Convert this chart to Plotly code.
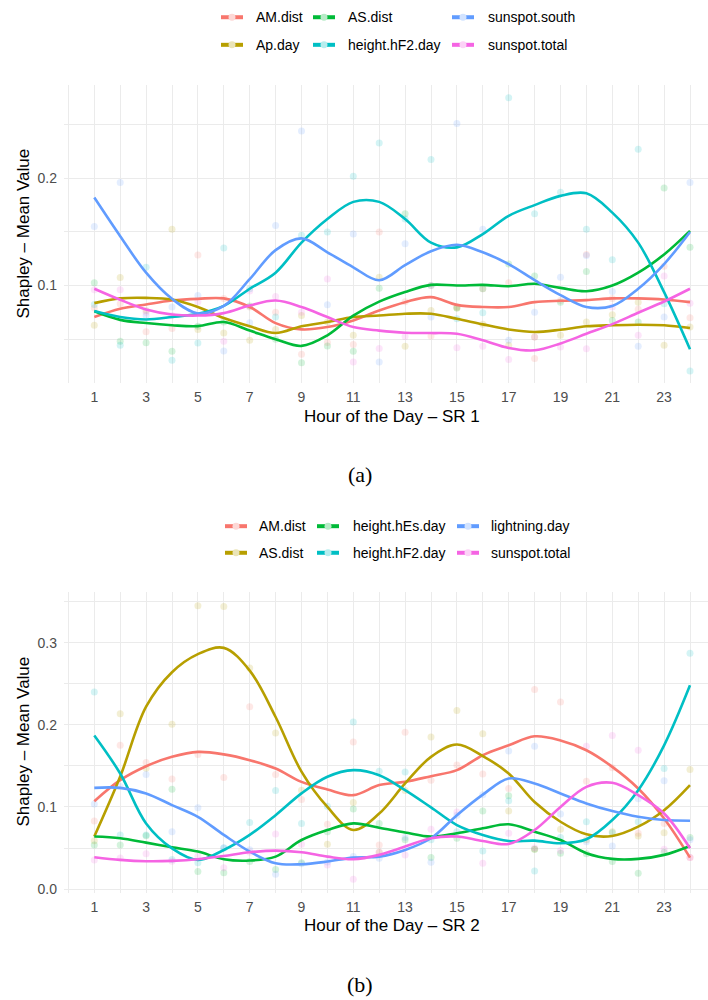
import plotly.graph_objects as go

hours = list(range(1, 25))

# ---------------- Panel (a) : SR 1 ----------------
a_names = ["AM.dist", "Ap.day", "AS.dist", "height.hF2.day", "sunspot.south", "sunspot.total"]
a_colors = ["#F8766D", "#B79F00", "#00BA38", "#00BFC4", "#619CFF", "#F564E3"]

# smoothed curves (read at each hour)
a_AM_smooth = [0.0706, 0.0783, 0.0824, 0.0860, 0.0876, 0.0880, 0.0800, 0.0650, 0.0591, 0.0613, 0.0675, 0.0768,
               0.0845, 0.0892, 0.0820, 0.0800, 0.0800, 0.0845, 0.0858, 0.0864, 0.0880, 0.0880, 0.0870, 0.0845]
a_Ap_smooth = [0.0836, 0.0880, 0.0885, 0.0870, 0.0800, 0.0697, 0.0620, 0.0557, 0.0620, 0.0660, 0.0706, 0.0720,
               0.0737, 0.0737, 0.0690, 0.0638, 0.0590, 0.0567, 0.0588, 0.0620, 0.0630, 0.0635, 0.0630, 0.0604]
a_AS_smooth = [0.0760, 0.0680, 0.0650, 0.0630, 0.0622, 0.0660, 0.0580, 0.0500, 0.0437, 0.0536, 0.0720, 0.0850,
               0.0940, 0.1006, 0.1000, 0.1006, 0.0994, 0.1016, 0.0978, 0.0947, 0.1000, 0.1120, 0.1290, 0.1510]
a_hF2_smooth = [0.0762, 0.0706, 0.0684, 0.0706, 0.0737, 0.0810, 0.0970, 0.1120, 0.1400, 0.1620, 0.1780, 0.1780,
                0.1620, 0.1400, 0.1356, 0.1480, 0.1650, 0.1750, 0.1836, 0.1860, 0.1680, 0.1400, 0.0938, 0.0406]
a_south_smooth = [0.1820, 0.1460, 0.1120, 0.0876, 0.0740, 0.0810, 0.1060, 0.1330, 0.1440, 0.1310, 0.1170, 0.1050,
                  0.1190, 0.1320, 0.1380, 0.1310, 0.1200, 0.1050, 0.0910, 0.0800, 0.0810, 0.0970, 0.1200, 0.1500]
a_total_smooth = [0.0970, 0.0867, 0.0777, 0.0730, 0.0720, 0.0743, 0.0814, 0.0860, 0.0800, 0.0706, 0.0613, 0.0580,
                  0.0560, 0.0557, 0.0550, 0.0490, 0.0418, 0.0396, 0.0460, 0.0550, 0.0640, 0.0746, 0.0851, 0.0970]

# hourly mean points
a_AM_pts = [0.079, 0.083, 0.057, 0.060, 0.1285, 0.088, 0.080, 0.075, 0.036, 0.047, 0.045, 0.150,
            0.085, 0.053, 0.080, 0.097, 0.1025, 0.032, 0.086, 0.129, 0.088, 0.078, 0.118, 0.070]
a_Ap_pts = [0.063, 0.1074, 0.0768, 0.1526, 0.059, 0.0557, 0.049, 0.059, 0.072, 0.066, 0.0536, 0.1077,
            0.0433, 0.0768, 0.079, 0.064, 0.0443, 0.052, 0.0536, 0.066, 0.0728, 0.0845, 0.0443, 0.0613]
a_AS_pts = [0.1025, 0.048, 0.0467, 0.0387, 0.062, 0.066, 0.081, 0.050, 0.028, 0.0437, 0.0387, 0.0975,
            0.167, 0.100, 0.079, 0.097, 0.120, 0.109, 0.0845, 0.113, 0.0675, 0.066, 0.191, 0.1356]
a_hF2_pts = [0.0824, 0.0443, 0.117, 0.0303, 0.0464, 0.135, 0.097, 0.0706, 0.147, 0.150, 0.202, 0.233,
             0.162, 0.2176, 0.069, 0.0746, 0.275, 0.167, 0.187, 0.1526, 0.124, 0.227, 0.083, 0.0204]
a_south_pts = [0.155, 0.196, 0.072, 0.080, 0.0907, 0.039, 0.0653, 0.156, 0.244, 0.082, 0.148, 0.0288,
               0.139, 0.0706, 0.251, 0.1526, 0.049, 0.0752, 0.1077, 0.128, 0.0944, 0.0433, 0.0706, 0.196]
a_total_pts = [0.096, 0.096, 0.075, 0.072, 0.085, 0.048, 0.095, 0.0898, 0.075, 0.106, 0.0288, 0.0412,
               0.0526, 0.100, 0.042, 0.0433, 0.031, 0.052, 0.0427, 0.041, 0.080, 0.0536, 0.109, 0.0836]

a_smooth = [a_AM_smooth, a_Ap_smooth, a_AS_smooth, a_hF2_smooth, a_south_smooth, a_total_smooth]
a_pts = [a_AM_pts, a_Ap_pts, a_AS_pts, a_hF2_pts, a_south_pts, a_total_pts]

# ---------------- Panel (b) : SR 2 ----------------
b_names = ["AM.dist", "AS.dist", "height.hEs.day", "height.hF2.day", "lightning.day", "sunspot.total"]
b_colors = ["#F8766D", "#B79F00", "#00BA38", "#00BFC4", "#619CFF", "#F564E3"]

b_AM_smooth = [0.107, 0.1326, 0.1496, 0.161, 0.167, 0.164, 0.157, 0.1468, 0.1306, 0.1213, 0.1144, 0.1266,
               0.1306, 0.1375, 0.1448, 0.163, 0.175, 0.186, 0.181, 0.169, 0.1488, 0.1225, 0.086, 0.0384]
b_AS_smooth = [0.064, 0.137, 0.222, 0.264, 0.286, 0.2936, 0.266, 0.2095, 0.143, 0.100, 0.072, 0.092,
               0.1286, 0.161, 0.176, 0.162, 0.1407, 0.106, 0.082, 0.0667, 0.0647, 0.076, 0.096, 0.1266]
b_hEs_smooth = [0.064, 0.0619, 0.0566, 0.051, 0.0457, 0.0364, 0.0348, 0.0396, 0.0598, 0.072, 0.080, 0.0748,
                0.069, 0.064, 0.068, 0.074, 0.0789, 0.070, 0.0598, 0.0437, 0.0368, 0.0368, 0.0417, 0.0526]
b_hF2_smooth = [0.187, 0.1407, 0.080, 0.0497, 0.0356, 0.0477, 0.066, 0.090, 0.1165, 0.1367, 0.1448, 0.1387,
                0.1205, 0.0995, 0.078, 0.066, 0.0586, 0.059, 0.0558, 0.0607, 0.0841, 0.1205, 0.175, 0.248]
b_light_smooth = [0.1233, 0.1233, 0.1165, 0.1023, 0.088, 0.066, 0.0457, 0.0315, 0.0303, 0.0336, 0.0384, 0.0396,
                  0.0477, 0.0619, 0.090, 0.115, 0.1347, 0.1286, 0.1165, 0.1043, 0.095, 0.088, 0.0841, 0.0833]
b_total_smooth = [0.0388, 0.0356, 0.034, 0.0344, 0.0364, 0.0404, 0.0449, 0.0469, 0.0449, 0.0396, 0.0364, 0.0417,
                  0.0518, 0.0619, 0.064, 0.0586, 0.055, 0.072, 0.100, 0.1245, 0.1294, 0.1144, 0.092, 0.0497]

b_AM_pts = [0.083, 0.175, 0.154, 0.134, 0.1638, 0.136, 0.222, 0.1395, 0.109, 0.079, 0.179, 0.0538,
            0.191, 0.1326, 0.151, 0.140, 0.1225, 0.243, 0.2277, 0.1314, 0.1476, 0.068, 0.080, 0.0384]
b_AS_pts = [0.059, 0.2135, 0.147, 0.2006, 0.345, 0.344, 0.269, 0.190, 0.1205, 0.0546, 0.1055, 0.045,
            0.120, 0.185, 0.2175, 0.189, 0.095, 0.0485, 0.073, 0.060, 0.070, 0.0647, 0.0687, 0.1456]
b_hEs_pts = [0.0538, 0.0538, 0.065, 0.1217, 0.0214, 0.020, 0.0336, 0.024, 0.032, 0.070, 0.0975, 0.080,
             0.060, 0.0384, 0.0619, 0.095, 0.1136, 0.0485, 0.0437, 0.043, 0.0336, 0.0194, 0.045, 0.0627]
b_hF2_pts = [0.240, 0.066, 0.066, 0.036, 0.032, 0.050, 0.081, 0.120, 0.080, 0.101, 0.2034, 0.1436,
             0.1427, 0.060, 0.070, 0.0465, 0.1076, 0.022, 0.063, 0.082, 0.0687, 0.082, 0.1468, 0.287]
b_light_pts = [0.1035, 0.125, 0.1395, 0.070, 0.099, 0.0505, 0.048, 0.018, 0.031, 0.033, 0.0396, 0.0376,
               0.063, 0.0328, 0.090, 0.115, 0.168, 0.174, 0.0914, 0.0578, 0.0526, 0.110, 0.132, 0.060]
b_total_pts = [0.0356, 0.038, 0.043, 0.034, 0.040, 0.026, 0.045, 0.067, 0.0546, 0.0295, 0.012, 0.045,
               0.0417, 0.0728, 0.094, 0.0315, 0.068, 0.050, 0.0469, 0.174, 0.187, 0.169, 0.0485, 0.0384]

b_smooth = [b_AM_smooth, b_AS_smooth, b_hEs_smooth, b_hF2_smooth, b_light_smooth, b_total_smooth]
b_pts = [b_AM_pts, b_AS_pts, b_hEs_pts, b_hF2_pts, b_light_pts, b_total_pts]

x_tick_vals = list(range(1, 25, 2))
x_minor_vals = list(range(0, 25, 2))

# ---------------- layout geometry (pixels) ----------------
W, H = 708, 1000
PX_H1, PX_H24 = 94.3, 690.0
PX_LEFT, PX_RIGHT = 64.0, 708.0
per_h = (PX_H24 - PX_H1) / 23.0
x_range = [1 - (PX_H1 - PX_LEFT) / per_h, 24 + (PX_RIGHT - PX_H24) / per_h]
x_domain = [PX_LEFT / W, PX_RIGHT / W]


def ydom(top, bot):
    return [1 - bot / H, 1 - top / H]


fig = go.Figure()

panels = [
    dict(names=a_names, colors=a_colors, smooth=a_smooth, pts=a_pts, xa="x", ya="y"),
    dict(names=b_names, colors=b_colors, smooth=b_smooth, pts=b_pts, xa="x2", ya="y2"),
]

for p in panels:
    for name, col, pts in zip(p["names"], p["colors"], p["pts"]):
        fig.add_trace(go.Scatter(x=hours, y=pts, mode="markers", name=name, showlegend=False,
                                 marker=dict(color=col, size=7, opacity=0.17, line=dict(width=0)),
                                 xaxis=p["xa"], yaxis=p["ya"], hoverinfo="skip"))
    for name, col, sm in zip(p["names"], p["colors"], p["smooth"]):
        fig.add_trace(go.Scatter(x=hours, y=sm, mode="lines", name=name, showlegend=False,
                                 line=dict(color=col, width=2.6, shape="spline", smoothing=1.0),
                                 xaxis=p["xa"], yaxis=p["ya"]))

GRID = "#EBEBEB"
tickfont = dict(family="Liberation Sans, Arial, sans-serif", size=14, color="#4D4D4D")

xcommon = dict(range=x_range, domain=x_domain, tickvals=x_tick_vals, ticktext=[str(v) for v in x_tick_vals],
               showgrid=True, gridcolor=GRID, gridwidth=1.2, zeroline=False, showline=False,
               ticks="", tickfont=tickfont, ticklabelstandoff=4,
               minor=dict(tickvals=x_minor_vals, showgrid=True, gridcolor=GRID, gridwidth=0.7))

fig.update_layout(
    width=W, height=H, margin=dict(l=0, r=0, t=0, b=0),
    paper_bgcolor="white", plot_bgcolor="white", showlegend=False,
    xaxis=dict(**xcommon, anchor="y"),
    yaxis=dict(domain=ydom(85, 385), range=[0.0087, 0.2873], tickvals=[0.1, 0.2], ticktext=["0.1", "0.2"],
               showgrid=True, gridcolor=GRID, gridwidth=1.2, zeroline=False, showline=False, ticks="",
               tickfont=tickfont, ticklabelstandoff=6, anchor="x",
               minor=dict(tickvals=[0.05, 0.15, 0.25], showgrid=True, gridcolor=GRID, gridwidth=0.7)),
    xaxis2=dict(**xcommon, anchor="y2"),
    yaxis2=dict(domain=ydom(594.3, 896.6), range=[-0.0047, 0.3617], tickvals=[0.0, 0.1, 0.2, 0.3],
                ticktext=["0.0", "0.1", "0.2", "0.3"],
                showgrid=True, gridcolor=GRID, gridwidth=1.2, zeroline=False, showline=False, ticks="",
                tickfont=tickfont, ticklabelstandoff=6, anchor="x2",
                minor=dict(tickvals=[0.05, 0.15, 0.25, 0.35], showgrid=True, gridcolor=GRID, gridwidth=0.7)),
)

annotations = []
shapes = []
sans = "Liberation Sans, Arial, sans-serif"


def px_note(x, y, text, size, family=sans, color="black", xanchor="center", angle=0):
    annotations.append(dict(x=x / W, y=1 - y / H, xref="paper", yref="paper", text=text, showarrow=False,
                            xanchor=xanchor, yanchor="middle", textangle=angle,
                            font=dict(family=family, size=size, color=color)))


# axis titles
px_note(392, 418, "Hour of the Day – SR 1", 17)
px_note(23.5, 235, "Shapley – Mean Value", 17, angle=-90)
px_note(392, 929, "Hour of the Day – SR 2", 17)
px_note(23.5, 745, "Shapley – Mean Value", 17, angle=-90)

# captions
serif = "Liberation Serif, Times New Roman, serif"
px_note(360, 476, "(a)", 22, family=serif)
px_note(360, 988, "(b)", 22, family=serif)


def lighten(hexcol, f):
    r, g, b = int(hexcol[1:3], 16), int(hexcol[3:5], 16), int(hexcol[5:7], 16)
    r, g, b = [int(c + (255 - c) * f) for c in (r, g, b)]
    return "rgb(%d,%d,%d)" % (r, g, b)


def legend(names, colors, rows_y, key_x, text_x):
    # column-wise filling, 2 rows x 3 columns
    for i, (nm, col) in enumerate(zip(names, colors)):
        c, r = i // 2, i % 2
        y = rows_y[r]
        kx = key_x[c]
        shapes.append(dict(type="line", xref="paper", yref="paper", x0=kx / W, x1=(kx + 22) / W,
                           y0=1 - y / H, y1=1 - y / H, line=dict(color=col, width=4)))
        cx = kx + 11
        shapes.append(dict(type="circle", xref="paper", yref="paper", x0=(cx - 3.5) / W, x1=(cx + 3.5) / W,
                           y0=1 - (y + 3.5) / H, y1=1 - (y - 3.5) / H,
                           fillcolor=lighten(col, 0.72), line=dict(width=0)))
        px_note(text_x[c], y, nm, 14, xanchor="left")


legend(a_names, a_colors, [17.3, 45.0], [221, 313, 452], [254, 346, 486])
legend(b_names, b_colors, [528.3, 555.0], [225, 317, 457], [257, 351, 489])

fig.update_layout(annotations=annotations, shapes=shapes)

fig.write_html("out.html")
